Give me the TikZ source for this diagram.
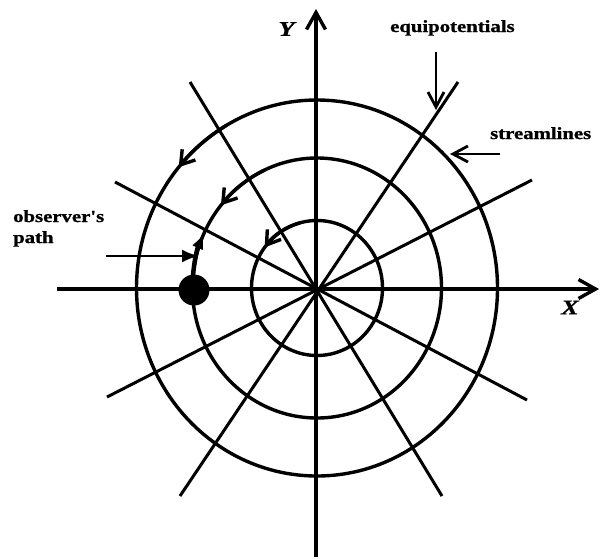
\documentclass[tikz,border=0pt]{standalone}
\usepackage{fontspec}
\setmainfont{Liberation Serif}
\newfontfamily\lblfont[FakeStretch=1.22,FakeBold=1.2]{Liberation Serif Bold}
\newfontfamily\axfont[FakeStretch=1.25,FakeBold=1]{Liberation Serif Bold Italic}
\usetikzlibrary{arrows.meta,calc}
\begin{document}
\begin{tikzpicture}[x=1pt,y=1pt,
  radial/.style={line width=3pt},
  ring/.style={line width=3.4pt},
  axisline/.style={line width=3.4pt,-{Straight Barb[length=17pt,width=19pt]}},
  barb/.style={-{Straight Barb[length=13pt,width=17pt]}},
  pointer/.style={line width=2.8pt,-{Straight Barb[length=15pt,width=16pt]}},
  solidptr/.style={line width=2.8pt,-{Latex[length=17pt,width=13pt]}},
  lbl/.style={font=\lblfont\fontsize{17}{21}\selectfont,inner sep=0pt},
  axlbl/.style={font=\axfont\fontsize{21}{24}\selectfont,inner sep=0pt}]
\useasboundingbox (0,0) rectangle (600,-558);
\coordinate (C) at (317,-288);
% radial lines (equipotentials) and axes
\coordinate (a1) at (115,-182); \coordinate (b1) at (527,-400);
\coordinate (a2) at (190,-82);  \coordinate (b2) at (442,-496);
\coordinate (a3) at (458,-82);  \coordinate (b3) at (180,-496);
\coordinate (a4) at (532,-180); \coordinate (b4) at (107,-397);
\coordinate (ybot) at (316,-557); \coordinate (ytop) at (316,-9);
\coordinate (xl) at (57,-289); \coordinate (xr) at (599,-289);
\draw[radial] (a1) -- (b1);
\draw[radial] (a2) -- (b2);
\draw[radial] (a3) -- (b3);
\draw[radial] (a4) -- (b4);
\draw[axisline] (ybot) -- (ytop);
\draw[axisline] (xl) -- (xr);
% streamlines (circles)
\draw[ring] (C) ellipse[x radius=65.5pt,y radius=67.5pt];
\draw[ring] (C) ellipse[x radius=124.5pt,y radius=130pt];
\draw[ring] (C) ellipse[x radius=180.5pt,y radius=188pt];
% direction marks on streamlines
\draw[ring,barb] ($(C)+(120:180.5pt and 188pt)$) arc[start angle=120,end angle=140,x radius=180.5pt,y radius=188pt];
\draw[ring,barb] ($(C)+(115:124.5pt and 130pt)$) arc[start angle=115,end angle=140.5,x radius=124.5pt,y radius=130pt];
\draw[ring,barb] ($(C)+(105:65.5pt and 67.5pt)$) arc[start angle=105,end angle=143,x radius=65.5pt,y radius=67.5pt];
% observer
\node[circle,fill,inner sep=0pt,minimum size=31pt] (obs) at (194,-290) {};
\draw[line width=4.5pt,-{Latex[length=16pt,width=12pt]}] ($(C)+(180:124.5pt and 130pt)$) arc[start angle=180,end angle=155,x radius=124.5pt,y radius=130pt];
% labels
\node[axlbl] (ylab) at (286.5,-29) {Y};
\node[axlbl] (xlab) at (570,-307.5) {X};
\node[lbl,anchor=base west] (eq) at (390,-32) {equipotentials};
\node[lbl,anchor=base west] (st) at (490,-139) {streamlines};
\node[lbl,anchor=base west,align=left] (op) at (13,-243) {observer's\\path};
% pointers
\coordinate (eqs) at (436,-52); \coordinate (eqe) at (436,-110);
\coordinate (sts) at (500,-154); \coordinate (ste) at (450,-154);
\coordinate (ops) at (106,-256); \coordinate (ope) at (199,-256);
\draw[pointer] (eqs) -- (eqe);
\draw[pointer] (sts) -- (ste);
\draw[solidptr] (ops) -- (ope);
\end{tikzpicture}
\end{document}
